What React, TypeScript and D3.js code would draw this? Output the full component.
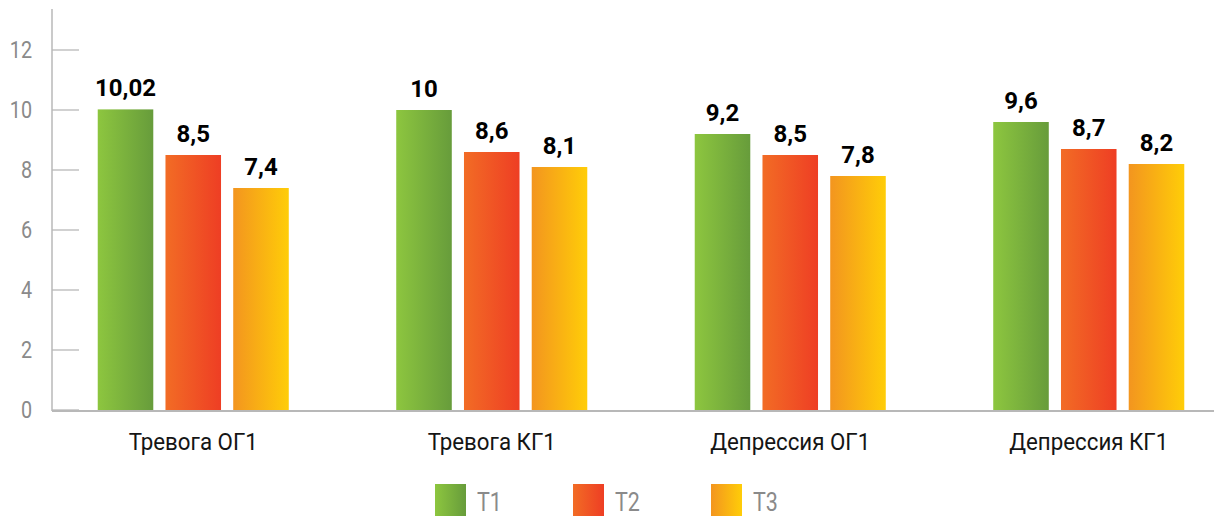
import React from "react";
import * as d3 from "d3";

// Groups along the x axis
const categories = ["Тревога ОГ1", "Тревога КГ1", "Депрессия ОГ1", "Депрессия КГ1"];
// Series (measurement points)
const seriesNames = ["Т1", "Т2", "Т3"];
const t1Values = [10.02, 10, 9.2, 9.6];
const t2Values = [8.5, 8.6, 8.5, 8.7];
const t3Values = [7.4, 8.1, 7.8, 8.2];
// Y axis ticks
const yTicks = [0, 2, 4, 6, 8, 10, 12];

const seriesValues = [t1Values, t2Values, t3Values];

const gradients = [
  { id: "grad-t1", from: "#8dc63f", to: "#679c3b" },
  { id: "grad-t2", from: "#f26c25", to: "#ee3e24" },
  { id: "grad-t3", from: "#f3951f", to: "#ffcd08" },
];

const W = 1214;
const H = 517;
const sans = "Roboto, 'Noto Sans', sans-serif";
const grey = "#8a8a8a";
const axisColor = "#b8b8b8";

function fmt(v: number) {
  return String(v).replace(".", ",");
}

// Text set in a horizontally condensed face
function NarrowText({
  x,
  y,
  sx = 0.9,
  children,
  ...rest
}: {
  x: number;
  y: number;
  sx?: number;
  children: React.ReactNode;
  [k: string]: any;
}) {
  return (
    <g transform={`translate(${x},${y}) scale(${sx},1)`}>
      <text x={0} y={0} {...rest}>
        {children}
      </text>
    </g>
  );
}

export default function App() {
  const axisX = 52;
  const y = d3.scaleLinear().domain([0, 12]).range([410, 50]);
  const x0 = d3
    .scaleBand<string>()
    .domain(categories)
    .range([44, 1238])
    .paddingInner(0.36)
    .paddingOuter(0.18);
  const x1 = d3
    .scaleBand<string>()
    .domain(seriesNames)
    .range([0, x0.bandwidth()])
    .paddingInner(0.18)
    .paddingOuter(0);

  const legendX = d3.scalePoint<string>().domain(seriesNames).range([435, 711]);

  return (
    <svg
      width={W}
      height={H}
      style={{ position: "absolute", left: 0, top: 0, background: "#fff" }}
    >
      <defs>
        {gradients.map((g) => (
          <linearGradient key={g.id} id={g.id} x1="0" y1="0" x2="1" y2="0">
            <stop offset="0%" stopColor={g.from} />
            <stop offset="100%" stopColor={g.to} />
          </linearGradient>
        ))}
      </defs>

      {/* y axis */}
      <line x1={axisX} x2={axisX} y1={9} y2={411} stroke={axisColor} strokeWidth={1.5} />
      {yTicks.map((t) => (
        <g key={t}>
          <line x1={axisX} x2={79} y1={y(t)} y2={y(t)} stroke={axisColor} strokeWidth={1.3} />
          <NarrowText
            x={32}
            y={y(t)}
            sx={0.86}
            textAnchor="end"
            dominantBaseline="central"
            fontFamily={sans}
            fontSize={23}
            fill={grey}
          >
            {t}
          </NarrowText>
        </g>
      ))}
      {/* baseline */}
      <line x1={axisX} x2={W} y1={411} y2={411} stroke={axisColor} strokeWidth={2} />

      {/* bars */}
      {categories.map((c, ci) => (
        <g key={c} transform={`translate(${x0(c)},0)`}>
          {seriesNames.map((s, si) => {
            const v = seriesValues[si][ci];
            const bx = x1(s)!;
            const bw = x1.bandwidth();
            return (
              <g key={s}>
                <rect
                  x={bx}
                  y={y(v)}
                  width={bw}
                  height={y(0) - y(v)}
                  fill={`url(#${gradients[si].id})`}
                />
                <text
                  x={bx + bw / 2}
                  y={y(v) - 13}
                  textAnchor="middle"
                  fontFamily="Roboto, sans-serif"
                  fontWeight={700}
                  fontSize={24}
                  fill="#000"
                >
                  {fmt(v)}
                </text>
              </g>
            );
          })}
          <NarrowText
            x={x0.bandwidth() / 2}
            y={450}
            sx={0.93}
            textAnchor="middle"
            fontFamily={sans}
            fontSize={24}
            fill="#151515"
          >
            {c}
          </NarrowText>
        </g>
      ))}

      {/* legend */}
      {seriesNames.map((s, si) => (
        <g key={s} transform={`translate(${legendX(s)},484)`}>
          <rect width={31} height={32} fill={`url(#${gradients[si].id})`} />
          <NarrowText x={42} y={27} sx={0.86} fontFamily={sans} fontSize={25} fill={grey}>
            {s}
          </NarrowText>
        </g>
      ))}
    </svg>
  );
}
